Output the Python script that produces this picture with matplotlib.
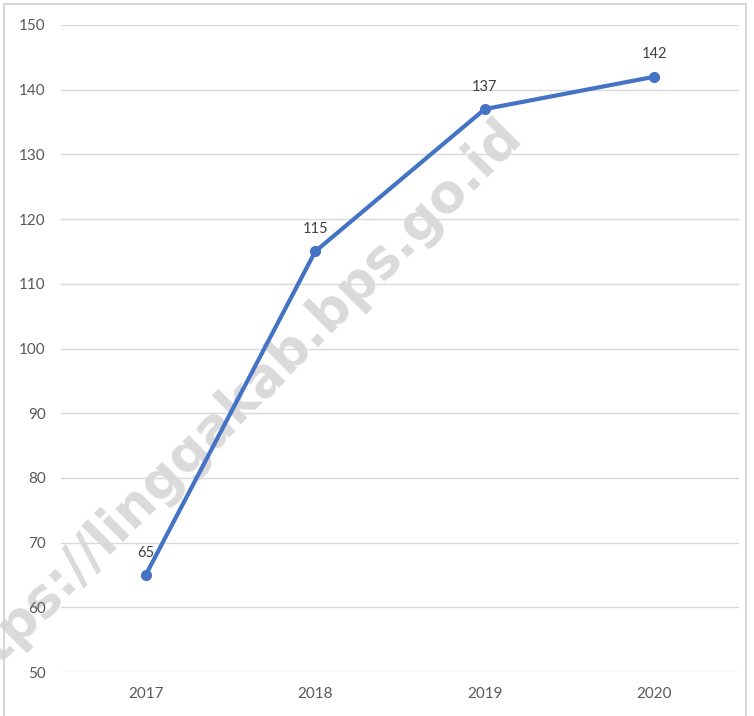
import matplotlib
matplotlib.use("Agg")
import matplotlib.pyplot as plt
from matplotlib.patches import Rectangle

years = ["2017", "2018", "2019", "2020"]
values = [65, 115, 137, 142]
y_ticks = [50, 60, 70, 80, 90, 100, 110, 120, 130, 140, 150]

W, H = 754, 716
fig = plt.figure(figsize=(W / 100, H / 100), dpi=100)
plt.rcParams['font.family'] = ['Lato', 'DejaVu Sans']

# figure border
fig.patches.append(Rectangle((4 / W, -0.01), (746 - 4) / W, 1 - 4 / H + 0.01,
                             transform=fig.transFigure, fill=False,
                             edgecolor='#d0d0d0', linewidth=1.2))

ax = fig.add_axes([61 / W, 1 - 672 / H, (739 - 61) / W, (672 - 25) / H])
ax.patch.set_alpha(0)
x = list(range(len(years)))
ax.set_xlim(-0.5, len(years) - 0.5)
ax.set_ylim(50, 150)
ax.set_yticks(y_ticks)
ax.set_xticks(x)
ax.set_xticklabels(years)
ax.grid(axis='y', color='#d9d9d9', linewidth=1)
ax.set_axisbelow(True)
for s in ax.spines.values():
    s.set_visible(False)
ax.tick_params(length=0, labelsize=11, colors='#595959')
ax.tick_params(axis='x', pad=11)
ax.tick_params(axis='y', pad=11)

# watermark (behind the chart)
fig.text(228 / W, 1 - 412 / H, "https://linggakab.bps.go.id", rotation=45,
         ha='center', va='center', fontsize=38, fontweight='bold',
         color='#dadada', family='DejaVu Sans', zorder=-1)

ax.plot(x, values, color='#4472C4', linewidth=3, marker='o', markersize=7,
        zorder=5)
for xi, v in zip(x, values):
    ax.annotate(str(v), (xi, v), textcoords='offset points', xytext=(0, 11),
                ha='center', va='bottom', fontsize=10.5, color='#404040')

fig.savefig("out.png", dpi=100)
